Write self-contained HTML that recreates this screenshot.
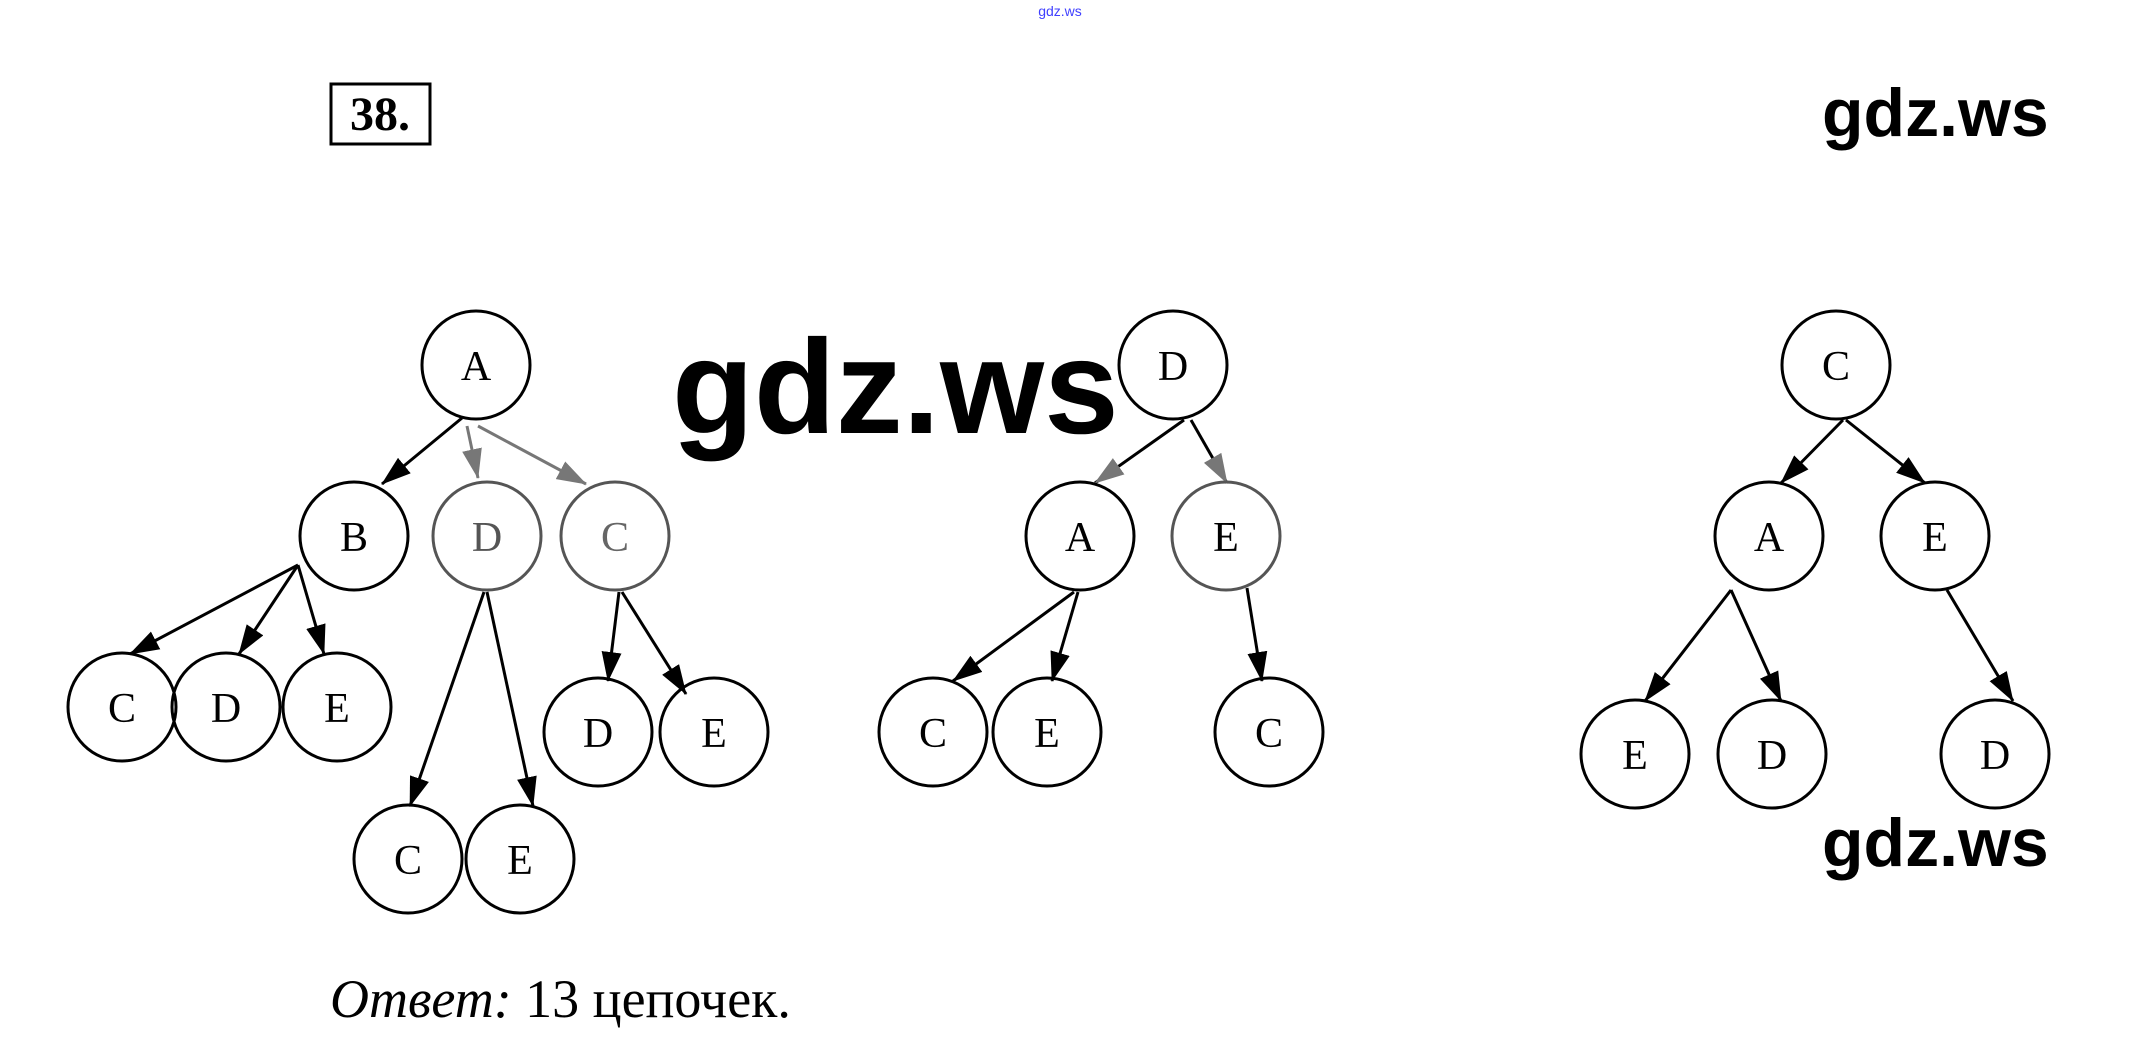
<!DOCTYPE html>
<html><head><meta charset="utf-8"><style>
html,body{margin:0;padding:0;background:#fff;}
body{width:2142px;height:1037px;position:relative;overflow:hidden;}
</style></head><body>
<svg width="2142" height="1037" viewBox="0 0 2142 1037" xmlns="http://www.w3.org/2000/svg" style="position:absolute;left:0;top:0">
<defs>
<marker id="ah" markerUnits="userSpaceOnUse" markerWidth="30" markerHeight="20" refX="29" refY="10" orient="auto"><path d="M0,0 L30,10 L0,20 z" fill="#000"/></marker>
<marker id="ag" markerUnits="userSpaceOnUse" markerWidth="30" markerHeight="20" refX="29" refY="10" orient="auto"><path d="M0,0 L30,10 L0,20 z" fill="#777"/></marker>
</defs>
<text x="1060" y="16" font-family="Liberation Sans, sans-serif" font-size="14" fill="#4040ff" text-anchor="middle">gdz.ws</text>
<rect x="331" y="84" width="99" height="60" fill="none" stroke="#000" stroke-width="3"/>
<text x="380" y="130" font-family="Liberation Serif, serif" font-size="48" font-weight="bold" text-anchor="middle">38.</text>
<g font-family="Liberation Sans, sans-serif" font-weight="bold" fill="#000">
<text x="1822" y="136" font-size="68">gdz.ws</text>
<text x="1822" y="866" font-size="68">gdz.ws</text>
<text x="672" y="433" font-size="134">gdz.ws</text>
</g>
<g stroke="#000" stroke-width="3" fill="none">
<line x1="462" y1="418" x2="382" y2="484" marker-end="url(#ah)"/>
<line x1="467" y1="426" x2="478" y2="478" stroke="#777" marker-end="url(#ag)"/>
<line x1="478" y1="426" x2="586" y2="484" stroke="#777" marker-end="url(#ag)"/>
<line x1="298" y1="565" x2="130" y2="654" marker-end="url(#ah)"/>
<line x1="298" y1="565" x2="239" y2="654" marker-end="url(#ah)"/>
<line x1="298" y1="565" x2="324" y2="654" marker-end="url(#ah)"/>
<line x1="484" y1="592" x2="410" y2="806" marker-end="url(#ah)"/>
<line x1="487" y1="592" x2="533" y2="806" marker-end="url(#ah)"/>
<line x1="619" y1="592" x2="608" y2="681" marker-end="url(#ah)"/>
<line x1="622" y1="592" x2="686" y2="694" marker-end="url(#ah)"/>
<line x1="1184" y1="420" x2="1095" y2="483" marker-end="url(#ag)"/>
<line x1="1191" y1="420" x2="1227" y2="483" marker-end="url(#ag)"/>
<line x1="1074" y1="592" x2="953" y2="681" marker-end="url(#ah)"/>
<line x1="1078" y1="592" x2="1052" y2="681" marker-end="url(#ah)"/>
<line x1="1247" y1="588" x2="1262" y2="681" marker-end="url(#ah)"/>
<line x1="1843" y1="420" x2="1781" y2="483" marker-end="url(#ah)"/>
<line x1="1846" y1="420" x2="1925" y2="483" marker-end="url(#ah)"/>
<line x1="1731" y1="590" x2="1645" y2="701" marker-end="url(#ah)"/>
<line x1="1731" y1="590" x2="1781" y2="701" marker-end="url(#ah)"/>
<line x1="1947" y1="590" x2="2013" y2="701" marker-end="url(#ah)"/>
</g>
<g stroke="#000" stroke-width="3" fill="none">
<circle cx="476" cy="365" r="54"/>
<circle cx="354" cy="536" r="54"/>
<circle cx="487" cy="536" r="54" stroke="#555"/>
<circle cx="615" cy="536" r="54" stroke="#555"/>
<circle cx="122" cy="707" r="54"/>
<circle cx="226" cy="707" r="54"/>
<circle cx="337" cy="707" r="54"/>
<circle cx="598" cy="732" r="54"/>
<circle cx="714" cy="732" r="54"/>
<circle cx="408" cy="859" r="54"/>
<circle cx="520" cy="859" r="54"/>
<circle cx="1173" cy="365" r="54"/>
<circle cx="1080" cy="536" r="54"/>
<circle cx="1226" cy="536" r="54" stroke="#555"/>
<circle cx="933" cy="732" r="54"/>
<circle cx="1047" cy="732" r="54"/>
<circle cx="1269" cy="732" r="54"/>
<circle cx="1836" cy="365" r="54"/>
<circle cx="1769" cy="536" r="54"/>
<circle cx="1935" cy="536" r="54"/>
<circle cx="1635" cy="754" r="54"/>
<circle cx="1772" cy="754" r="54"/>
<circle cx="1995" cy="754" r="54"/>
</g>
<g font-family="Liberation Serif, serif" font-size="42" text-anchor="middle" fill="#000">
<text x="476" y="380">A</text>
<text x="354" y="551">B</text>
<text x="487" y="551" fill="#555">D</text>
<text x="615" y="551" fill="#666">C</text>
<text x="122" y="722">C</text>
<text x="226" y="722">D</text>
<text x="337" y="722">E</text>
<text x="598" y="747">D</text>
<text x="714" y="747">E</text>
<text x="408" y="874">C</text>
<text x="520" y="874">E</text>
<text x="1173" y="380">D</text>
<text x="1080" y="551">A</text>
<text x="1226" y="551">E</text>
<text x="933" y="747">C</text>
<text x="1047" y="747">E</text>
<text x="1269" y="747">C</text>
<text x="1836" y="380">C</text>
<text x="1769" y="551">A</text>
<text x="1935" y="551">E</text>
<text x="1635" y="769">E</text>
<text x="1772" y="769">D</text>
<text x="1995" y="769">D</text>
</g>
<text x="330" y="1017" font-family="Liberation Serif, serif" font-size="54" fill="#000"><tspan font-style="italic">Ответ:</tspan> 13 цепочек.</text>
</svg>
</body></html>
